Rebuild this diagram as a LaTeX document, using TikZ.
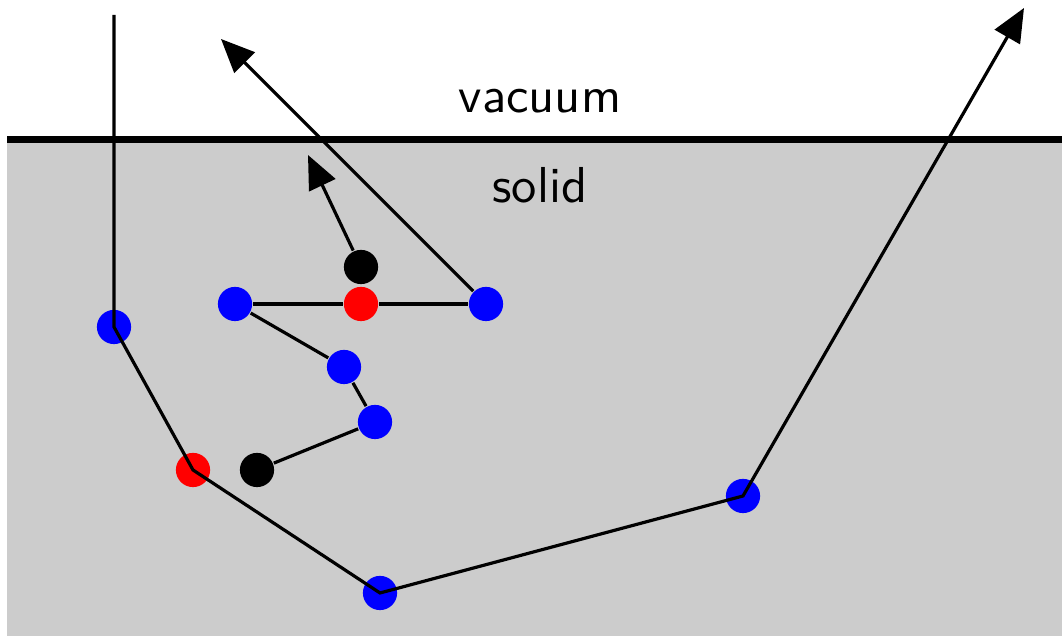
\documentclass[tikz,border=0pt]{standalone}
\usepackage{amsmath, amssymb}
\usepackage{xcolor}
\usepackage{tikz}
\usetikzlibrary{shapes.geometric, positioning, arrows.meta, calc}

\begin{document}
\begin{tikzpicture}[x=0.0066cm, y=-0.0066cm,
        atom/.style={circle, minimum size=2.26mm, inner sep=0pt},
        traj/.style={semithick},
        tip/.style={-{Triangle[length=6.3pt, width=5.4pt]}}]
        % Frame
        \useasboundingbox (0,0) rectangle (1062,636);

        % Solid and surface
        \fill[black!20] (7.5,139.5) rectangle (1062,636);
        \draw[line width=1.3pt] (7.5,139.5) -- (1062,139.5);

        % Labels
        \node[anchor=base, font=\sffamily\fontsize{9.5}{11}\selectfont] (vac) at (540,113) {vacuum};
        \node[anchor=base, font=\sffamily\fontsize{9.5}{11}\selectfont] (sol) at (540,203) {solid};

        % Atoms
        \node[atom, fill=blue] (b1) at (114,327) {};
        \node[atom, fill=red] (r1) at (193,470) {};
        \node[atom, fill=blue] (b2) at (380,593) {};
        \node[atom, fill=blue] (b3) at (743,496) {};
        \node[atom, fill=blue] (b4) at (235,304) {};
        \node[atom, fill=red] (r2) at (361,304) {};
        \node[atom, fill=blue] (b5) at (486,304) {};
        \node[atom, fill=black] (k1) at (361,267) {};
        \node[atom, fill=blue] (b6) at (344,367) {};
        \node[atom, fill=blue] (b7) at (375,422) {};
        \node[atom, fill=black] (k2) at (257,470) {};

        % Ends
        \coordinate (in) at (114,15);
        \coordinate (out) at (1024,8);
        \coordinate (back) at (221,39);
        \coordinate (up) at (308,155);

        % Primary ion
        \draw[traj, tip] (in) -- (b1.center) -- (r1.center) -- (b2.center) -- (b3.center) -- (out);

        % Recoils
        \draw[traj] (b4) -- (r2) -- (b5);
        \draw[traj] (b4) -- (b6) -- (b7) -- (k2);
        \draw[traj, tip] (b5) -- (back);
        \draw[traj, tip] (k1) -- (up);

    \end{tikzpicture}
\end{document}
